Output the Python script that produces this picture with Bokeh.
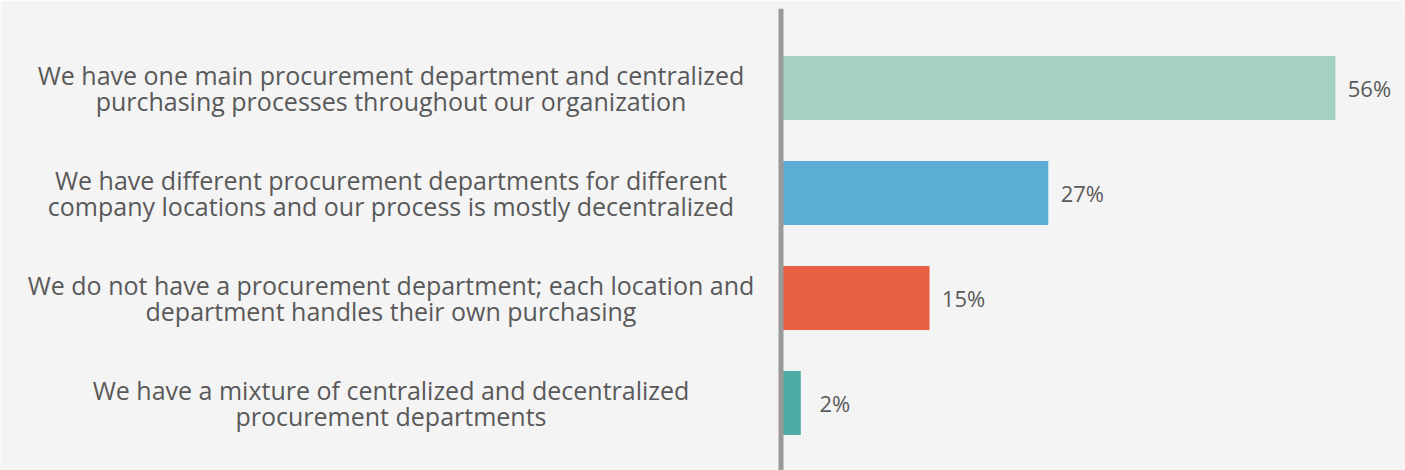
from bokeh.plotting import figure
from bokeh.models import ColumnDataSource, Range1d, Span
from bokeh.core.properties import value
from bokeh.embed import file_html
from bokeh.resources import INLINE

categories = [
    "We have one main procurement department and centralized\npurchasing processes throughout our organization",
    "We have different procurement departments for different\ncompany locations and our process is mostly decentralized",
    "We do not have a procurement department; each location and\ndepartment handles their own purchasing",
    "We have a mixture of centralized and decentralized\nprocurement departments",
]
values = [56, 27, 15, 2]
value_labels = ["56%", "27%", "15%", "2%"]
colors = ["#a5d2c0", "#5badd4", "#e85f44", "#4eaca6"]

BG = "#f4f4f4"
W, H = 1405, 470
TOP = 8
FH = H - TOP
PX_PER_UNIT = 9.9
ZERO_PX = 780.5
ROW_PX = 105.0
FIRST_ROW_PX = 87.5 - TOP

ys = list(range(len(categories)))
src = ColumnDataSource(dict(y=ys, v=values, cat=categories, lab=value_labels, color=colors))

p = figure(
    width=W, height=H, output_backend="svg", toolbar_location=None,
    x_range=Range1d(-ZERO_PX / PX_PER_UNIT, (W - ZERO_PX) / PX_PER_UNIT),
    y_range=Range1d((FH - FIRST_ROW_PX) / ROW_PX, -FIRST_ROW_PX / ROW_PX),
    min_border=0, min_border_left=0, min_border_right=0, min_border_top=TOP, min_border_bottom=0,
)
p.background_fill_color = BG
p.border_fill_color = BG
p.outline_line_color = None
p.xaxis.visible = False
p.yaxis.visible = False
p.xgrid.visible = False
p.ygrid.visible = False

p.hbar(y="y", left=0, right="v", height=64 / ROW_PX, color="color", line_color=None, source=src)

p.add_layout(Span(location=0, dimension="height", line_color="#999999", line_width=5))

p.text(x="v", y="y", text="lab", x_offset=34, text_align="center", text_baseline="middle",
       text_font=value("Open Sans"), text_font_size="22px", text_color="#5a5a5a", source=src)

p.text(x=0, y="y", text="cat", x_offset=-390, text_align="center", text_baseline="middle",
       text_line_height=0.77, text_font=value("Open Sans"), text_font_size="25px",
       text_color="#595959", source=src)

open("out.html", "w").write(file_html(p, INLINE))
